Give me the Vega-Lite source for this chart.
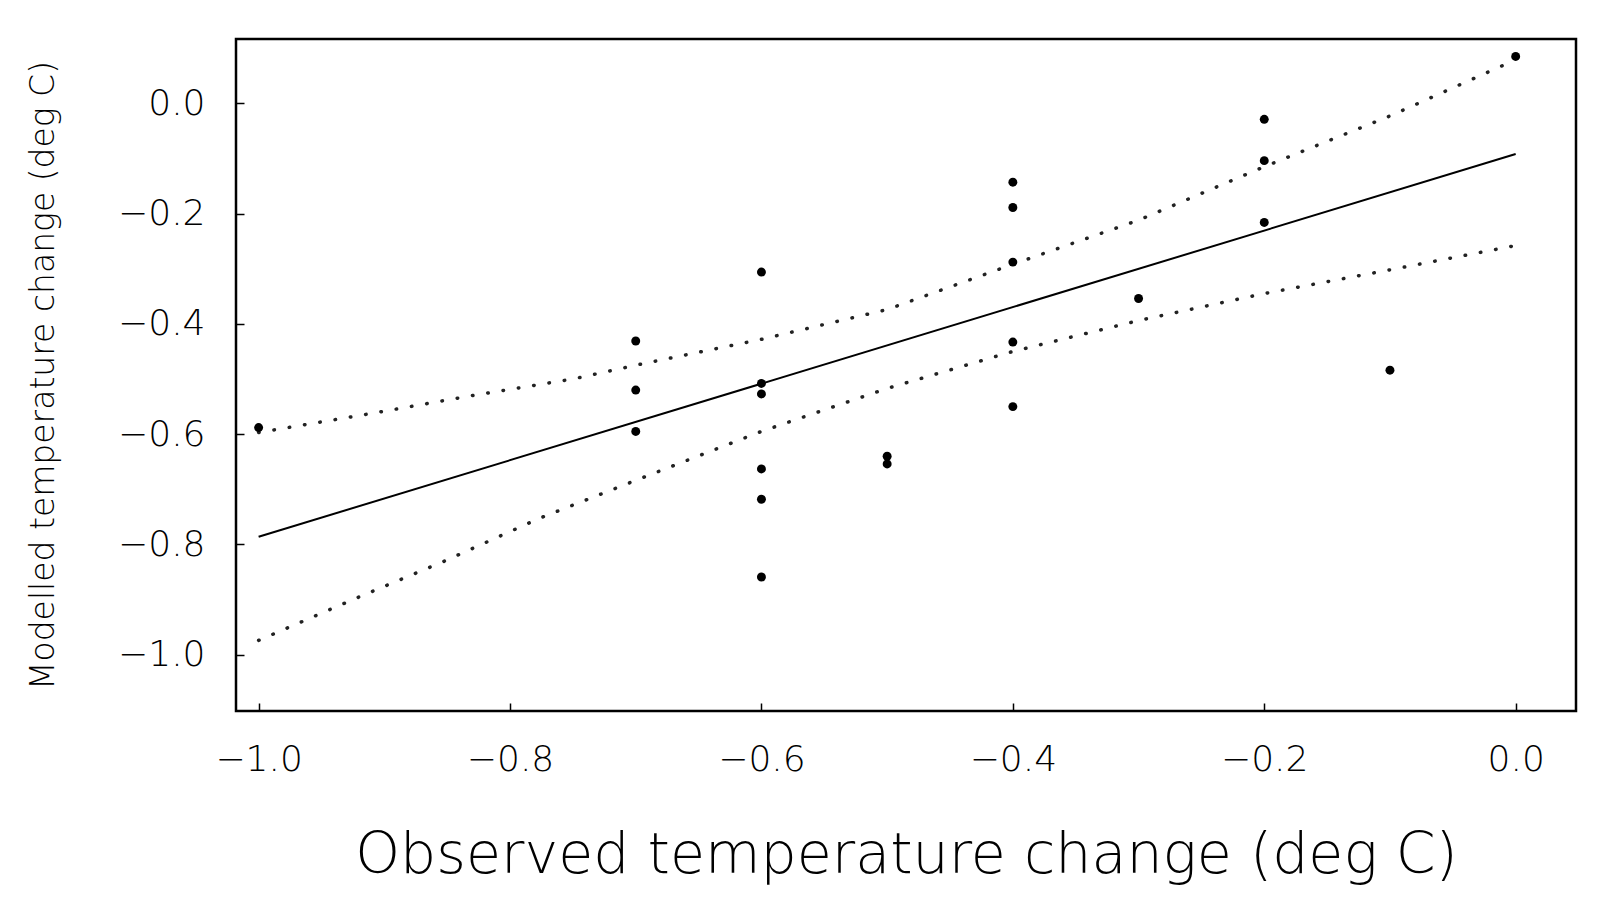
{
  "$schema": "https://vega.github.io/schema/vega-lite/v6.json",
  "width": 1340,
  "height": 672,
  "autosize": {"type": "none"},
  "padding": {"left": 236, "top": 39, "right": 30, "bottom": 188},
  "background": "white",
  "config": {
    "view": {"stroke": "black", "strokeWidth": 2.5},
    "font": "DejaVu Sans",
    "axis": {
      "grid": false,
      "domain": false,
      "offset": -8,
      "tickColor": "black",
      "tickWidth": 1.5,
      "tickSize": 8,
      "labelFont": "DejaVu Sans",
      "labelFontSize": 36,
      "labelFontWeight": 200,
      "labelColor": "black",
      "titleFont": "DejaVu Sans",
      "titleFontWeight": 200,
      "titleColor": "black"
    }
  },
  "datasets": {
    "obs": [
      {"observed": -1.0, "modelled": -0.588},
      {"observed": -0.7, "modelled": -0.431},
      {"observed": -0.7, "modelled": -0.520},
      {"observed": -0.7, "modelled": -0.595},
      {"observed": -0.6, "modelled": -0.306},
      {"observed": -0.6, "modelled": -0.508},
      {"observed": -0.6, "modelled": -0.527},
      {"observed": -0.6, "modelled": -0.663},
      {"observed": -0.6, "modelled": -0.718},
      {"observed": -0.6, "modelled": -0.859},
      {"observed": -0.5, "modelled": -0.640},
      {"observed": -0.5, "modelled": -0.654},
      {"observed": -0.4, "modelled": -0.143},
      {"observed": -0.4, "modelled": -0.189},
      {"observed": -0.4, "modelled": -0.288},
      {"observed": -0.4, "modelled": -0.433},
      {"observed": -0.4, "modelled": -0.550},
      {"observed": -0.3, "modelled": -0.354},
      {"observed": -0.2, "modelled": -0.029},
      {"observed": -0.2, "modelled": -0.104},
      {"observed": -0.2, "modelled": -0.216},
      {"observed": -0.1, "modelled": -0.484},
      {"observed": 0.0, "modelled": 0.085}
    ],
    "fit": [
      {"observed": -1.0, "modelled": -0.786},
      {"observed": 0.0, "modelled": -0.092}
    ],
    "bands": [
      {"band": "upper", "observed": -1.0, "modelled": -0.597},
      {"band": "upper", "observed": -0.909, "modelled": -0.562},
      {"band": "upper", "observed": -0.83, "modelled": -0.530},
      {"band": "upper", "observed": -0.75, "modelled": -0.500},
      {"band": "upper", "observed": -0.698, "modelled": -0.474},
      {"band": "upper", "observed": -0.6, "modelled": -0.428},
      {"band": "upper", "observed": -0.5, "modelled": -0.374},
      {"band": "upper", "observed": -0.4, "modelled": -0.292},
      {"band": "upper", "observed": -0.3, "modelled": -0.212},
      {"band": "upper", "observed": -0.2, "modelled": -0.115},
      {"band": "upper", "observed": -0.1, "modelled": -0.023},
      {"band": "upper", "observed": 0.0, "modelled": 0.079},
      {"band": "lower", "observed": -1.0, "modelled": -0.974},
      {"band": "lower", "observed": -0.925, "modelled": -0.900},
      {"band": "lower", "observed": -0.853, "modelled": -0.831},
      {"band": "lower", "observed": -0.776, "modelled": -0.752},
      {"band": "lower", "observed": -0.698, "modelled": -0.682},
      {"band": "lower", "observed": -0.6, "modelled": -0.595},
      {"band": "lower", "observed": -0.5, "modelled": -0.517},
      {"band": "lower", "observed": -0.4, "modelled": -0.450},
      {"band": "lower", "observed": -0.3, "modelled": -0.394},
      {"band": "lower", "observed": -0.2, "modelled": -0.345},
      {"band": "lower", "observed": -0.1, "modelled": -0.302},
      {"band": "lower", "observed": 0.0, "modelled": -0.258}
    ]
  },
  "encoding": {
    "x": {
      "field": "observed",
      "type": "quantitative",
      "scale": {"domain": [-1.018, 0.048], "nice": false, "zero": false},
      "axis": {
        "values": [-1.0, -0.8, -0.6, -0.4, -0.2, 0.0],
        "format": ".1f",
        "labelPadding": 31,
        "title": "Observed temperature change (deg C)",
        "titleFontSize": 57,
        "titleBaseline": "alphabetic",
        "titleY": 169
      }
    },
    "y": {
      "field": "modelled",
      "type": "quantitative",
      "scale": {"domain": [-1.102, 0.1166], "nice": false, "zero": false},
      "axis": {
        "values": [-1.0, -0.8, -0.6, -0.4, -0.2, 0.0],
        "format": ".1f",
        "labelPadding": 31,
        "title": "Modelled temperature change (deg C)",
        "titleFontSize": 33,
        "titleBaseline": "middle",
        "titleX": -201,
        "titleY": 336
      }
    }
  },
  "layer": [
    {
      "data": {"name": "fit"},
      "mark": {"type": "line", "color": "black", "strokeWidth": 2}
    },
    {
      "data": {"name": "bands"},
      "mark": {"type": "line", "color": "#222", "strokeWidth": 3.5, "strokeCap": "round", "strokeDash": [0.5, 15]},
      "encoding": {"detail": {"field": "band", "type": "nominal"}}
    },
    {
      "data": {"name": "obs"},
      "mark": {"type": "circle", "color": "black", "size": 80, "opacity": 1}
    }
  ]
}
